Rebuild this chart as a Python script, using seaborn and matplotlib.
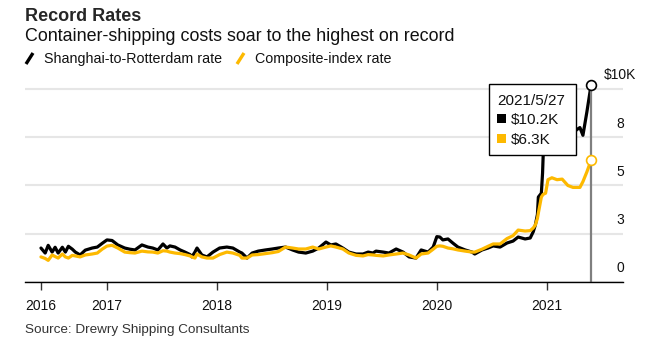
import matplotlib
matplotlib.use("Agg")
import matplotlib.pyplot as plt
import seaborn as sns
import pandas as pd
from matplotlib.patches import Rectangle
from matplotlib.lines import Line2D

# ---------------- data (thousand US$ per 40ft container) ----------------
dates = [
    "2016-05-27", "2016-06-10", "2016-06-20", "2016-07-03", "2016-07-13", "2016-07-23",
    "2016-08-06", "2016-08-16", "2016-08-26", "2016-09-08", "2016-09-18", "2016-10-04",
    "2016-10-21", "2016-11-13", "2016-11-30", "2016-12-16", "2017-01-01", "2017-01-18",
    "2017-02-06", "2017-03-01", "2017-03-18", "2017-04-04", "2017-04-27", "2017-05-17",
    "2017-06-02", "2017-06-19", "2017-07-06", "2017-07-19", "2017-07-29", "2017-08-15",
    "2017-09-01", "2017-09-17", "2017-10-04", "2017-10-10", "2017-10-20", "2017-10-27",
    "2017-11-12", "2017-11-29", "2017-12-19", "2018-01-10", "2018-02-03", "2018-02-23",
    "2018-03-18", "2018-03-25", "2018-04-11", "2018-04-28", "2018-05-18", "2018-06-11",
    "2018-07-04", "2018-07-24", "2018-08-17", "2018-09-09", "2018-09-29", "2018-10-23",
    "2018-11-15", "2018-12-05", "2018-12-29", "2019-01-14", "2019-01-31", "2019-02-23",
    "2019-03-15", "2019-04-08", "2019-05-01", "2019-05-18", "2019-06-03", "2019-06-13",
    "2019-07-07", "2019-07-26", "2019-08-19", "2019-09-11", "2019-10-01", "2019-10-24",
    "2019-11-10", "2019-12-03", "2019-12-20", "2020-01-01", "2020-01-11", "2020-01-21",
    "2020-02-07", "2020-02-23", "2020-03-11", "2020-04-04", "2020-04-27", "2020-05-06",
    "2020-05-30", "2020-06-19", "2020-07-06", "2020-07-29", "2020-08-21", "2020-09-10",
    "2020-09-27", "2020-10-20", "2020-11-06", "2020-11-16", "2020-11-23", "2020-11-30",
    "2020-12-03", "2020-12-13", "2020-12-17", "2020-12-20", "2020-12-27", "2021-01-04",
    "2021-01-17", "2021-02-03", "2021-02-20", "2021-03-11", "2021-03-28", "2021-04-10",
    "2021-04-20", "2021-04-30", "2021-05-13", "2021-05-27",
]
shanghai_rotterdam = [
    1.76, 1.50, 1.90, 1.55, 1.80, 1.50,
    1.80, 1.55, 1.85, 1.70, 1.55, 1.40,
    1.65, 1.76, 1.81, 2.00, 2.18, 2.15,
    1.92, 1.76, 1.70, 1.66, 1.92, 1.81,
    1.76, 1.66, 1.97, 1.76, 1.87, 1.81,
    1.66, 1.55, 1.42, 1.30, 1.55, 1.76,
    1.40, 1.30, 1.55, 1.76, 1.81, 1.76,
    1.55, 1.50, 1.24, 1.50, 1.60, 1.66,
    1.71, 1.76, 1.81, 1.66, 1.55, 1.50,
    1.60, 1.76, 2.07, 1.92, 1.97, 1.76,
    1.55, 1.45, 1.45, 1.55, 1.50, 1.60,
    1.55, 1.50, 1.71, 1.55, 1.30, 1.24,
    1.66, 1.55, 1.81, 2.35, 2.33, 2.18,
    2.23, 2.02, 1.81, 1.66, 1.55, 1.45,
    1.66, 1.76, 1.87, 1.81, 2.02, 2.12,
    2.33, 2.23, 2.28, 2.60, 2.95, 3.50,
    4.40, 4.60, 5.65, 7.00, 7.80, 8.20,
    8.60, 8.80, 8.50, 8.00, 7.70, 7.90,
    8.00, 7.60, 8.80, 10.20,
]
composite_index = [
    1.30, 1.22, 1.12, 1.40, 1.32, 1.24,
    1.45, 1.30, 1.24, 1.38, 1.35, 1.30,
    1.40, 1.45, 1.50, 1.70, 1.86, 1.90,
    1.76, 1.55, 1.52, 1.50, 1.60, 1.56,
    1.55, 1.50, 1.62, 1.60, 1.55, 1.50,
    1.47, 1.42, 1.35, 1.30, 1.24, 1.45,
    1.30, 1.24, 1.24, 1.42, 1.55, 1.50,
    1.38, 1.24, 1.24, 1.40, 1.42, 1.47,
    1.52, 1.58, 1.81, 1.76, 1.71, 1.71,
    1.81, 1.71, 1.81, 1.87, 1.81, 1.71,
    1.50, 1.38, 1.35, 1.42, 1.40, 1.38,
    1.35, 1.40, 1.45, 1.50, 1.40, 1.24,
    1.45, 1.50, 1.70, 1.85, 1.87, 1.85,
    1.76, 1.72, 1.66, 1.60, 1.55, 1.55,
    1.70, 1.85, 1.97, 1.97, 2.25, 2.40,
    2.69, 2.64, 2.66, 2.80, 2.95, 3.30,
    3.57, 4.40, 4.50, 4.55, 4.60, 5.30,
    5.40, 5.30, 5.33, 5.00, 4.90, 4.90,
    4.90, 5.20, 5.70, 6.30,
]
series_names = ["Shanghai-to-Rotterdam rate", "Composite-index rate"]
series_colors = ["#000000", "#FDB900"]
x_tick_dates = ["2016-05-27", "2017-01-01", "2018-01-01", "2019-01-01", "2020-01-01", "2021-01-01"]
x_tick_labels = ["2016", "2017", "2018", "2019", "2020", "2021"]
y_ticks = [0, 2.5, 5, 7.5, 10]
y_tick_labels = ["0", "3", "5", "8", "$10K"]
tooltip_date = "2021/5/27"
tooltip_labels = ["$10.2K", "$6.3K"]
title = "Record Rates"
subtitle = "Container-shipping costs soar to the highest on record"
source = "Source: Drewry Shipping Consultants"

# ---------------- style ----------------
sns.set_style("white")
plt.rcParams['font.family'] = ['Liberation Sans', 'DejaVu Sans']

W, H = 671, 343
fig = plt.figure(figsize=(W / 100, H / 100), dpi=100)
ax = fig.add_axes([25 / W, 61 / H, 598 / W, 205 / H])

df = pd.DataFrame({
    "date": pd.to_datetime(dates * 2),
    "value": shanghai_rotterdam + composite_index,
    "series": [series_names[0]] * len(dates) + [series_names[1]] * len(dates),
})
sns.lineplot(data=df, x="date", y="value", hue="series", hue_order=series_names,
             palette=series_colors, linewidth=2.3, legend=False, ax=ax, zorder=3)

ax.set_xlim(pd.Timestamp("2016-04-04"), pd.Timestamp("2021-09-10"))
ax.set_ylim(0, 10.62)
ax.set_xlabel("")
ax.set_ylabel("")

for s in ["top", "left", "right"]:
    ax.spines[s].set_visible(False)
ax.spines["bottom"].set_color("black")
ax.spines["bottom"].set_linewidth(1.0)
ax.spines["bottom"].set_zorder(5)

ax.set_yticks(y_ticks)
ax.yaxis.grid(True, color="#e6e6e6", linewidth=1.5)
ax.xaxis.grid(False)
ax.set_axisbelow(True)
ax.tick_params(axis="y", length=0, labelleft=False, labelright=False)

ax.set_xticks(pd.to_datetime(x_tick_dates))
ax.set_xticklabels(x_tick_labels)
ax.tick_params(axis="x", bottom=True, length=6, width=1, color="#333333",
               labelsize=10, pad=6, labelcolor="#111111")

for v, lab in zip(y_ticks, y_tick_labels):
    ax.annotate(lab, xy=(0.995, v), xycoords=("axes fraction", "data"),
                xytext=(0, 13.5 * 0.72), textcoords="offset points",
                ha="center", va="center", fontsize=10, color="#111111",
                annotation_clip=False)

# hover line and end markers
end_date = pd.Timestamp(dates[-1])
ax.vlines(end_date, 0, shanghai_rotterdam[-1], color="#7f7f7f", linewidth=1.6, zorder=4)
ax.scatter([end_date], [shanghai_rotterdam[-1]], s=50, facecolor="white",
           edgecolor=series_colors[0], linewidth=1.2, zorder=6, clip_on=False)
ax.scatter([end_date], [composite_index[-1]], s=50, facecolor="white",
           edgecolor=series_colors[1], linewidth=1.2, zorder=6, clip_on=False)

# tooltip
fig.add_artist(Rectangle((489 / W, 1 - 155 / H), 87 / W, 71 / H, transform=fig.transFigure,
                         facecolor="white", edgecolor="black", linewidth=1.0, zorder=10))
fig.text(497 / W, 1 - 105 / H, tooltip_date, fontsize=11, va="baseline", ha="left",
         color="#111111", zorder=11)
for i, (lab, col) in enumerate(zip(tooltip_labels, series_colors)):
    top = 114 + i * 20
    fig.add_artist(Rectangle((497 / W, 1 - (top + 9) / H), 9 / W, 9 / H,
                             transform=fig.transFigure, facecolor=col,
                             edgecolor="none", zorder=11))
    fig.text(511 / W, 1 - (top + 10) / H, lab, fontsize=11, va="baseline", ha="left",
             color="#111111", zorder=11)

# header
fig.text(25 / W, 1 - 21 / H, title, fontsize=13, fontweight="bold", va="baseline", ha="left")
fig.text(25 / W, 1 - 41 / H, subtitle, fontsize=12.9, va="baseline", ha="left", color="#111111")

# legend
leg_x = [25, 236]
for x0, name, col in zip(leg_x, series_names, series_colors):
    fig.add_artist(Line2D([(x0 + 1) / W, (x0 + 8) / W], [1 - 64 / H, 1 - 53 / H],
                          transform=fig.transFigure, color=col, linewidth=2.4,
                          solid_capstyle="butt"))
    fig.text((x0 + 19) / W, 1 - 63 / H, name, fontsize=10.3, va="baseline", ha="left",
             color="#111111")

fig.text(25 / W, 1 - 333 / H, source, fontsize=9.7, va="baseline", ha="left", color="#333333")

fig.savefig("out.png", dpi=100)
